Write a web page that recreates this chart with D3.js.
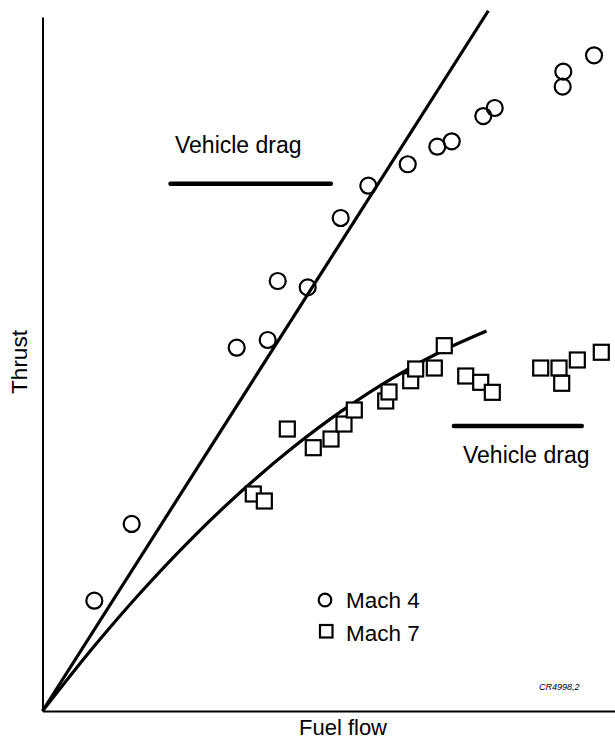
<!DOCTYPE html>
<html>
<head>
<meta charset="utf-8">
<script src="https://cdn.jsdelivr.net/npm/d3@7"></script>
<style>
  html, body { margin: 0; padding: 0; background: #fff; }
  svg { display: block; font-family: "Liberation Sans", Arial, sans-serif; }
</style>
</head>
<body>
<svg id="chart" width="615" height="741"></svg>
<script>
// ---- Data (arbitrary units; no ticks on the original) ----
const mach4Fuel   = [9.06, 15.59, 33.95, 39.37, 41.12, 46.36, 52.13, 56.96, 63.85, 69.02, 71.54, 77.06, 79.06, 90.94, 91.05, 96.42];
const mach4Thrust = [15.89, 26.95, 52.35, 53.46, 61.96, 61.05, 71.04, 75.69, 78.78, 81.31, 82.09, 85.73, 86.89, 89.96, 92.12, 94.48];

const mach7Fuel   = [36.85, 38.78, 42.80, 47.34, 50.44, 52.71, 54.51, 60.00, 60.58, 64.37, 65.24, 68.50, 70.24, 73.99, 76.61, 78.64, 87.10, 90.30, 90.77, 93.50, 97.69];
const mach7Thrust = [31.27, 30.26, 40.63, 37.94, 39.19, 41.35, 43.37, 44.67, 45.97, 47.59, 49.28, 49.42, 52.64, 48.27, 47.36, 45.92, 49.42, 49.42, 47.22, 50.58, 51.69];

// Fitted trend for Mach 4 (straight line from origin)
const mach4FitFuel   = [0, 77.94];
const mach4FitThrust = [0, 100.9];

// Fitted trend for Mach 7 (curve from origin)
const mach7FitFuel   = [0, 8.74, 17.48, 26.22, 34.97, 43.71, 52.45, 61.19, 69.93, 77.62];
const mach7FitThrust = [0, 9.05, 17.37, 24.96, 31.81, 37.93, 43.32, 47.98, 51.91, 54.76];

// Vehicle drag levels
const dragLabels = ["Vehicle drag", "Vehicle drag"];
const dragThrust = [75.98, 41.07];
const dragFuelStart = [22.38, 71.92];
const dragFuelEnd   = [50.40, 94.28];

const seriesNames = ["Mach 4", "Mach 7"];
const axisTitles = { x: "Fuel flow", y: "Thrust" };
const figureCode = "CR4998,2";

// ---- Layout ----
const svg = d3.select("#chart");
const x = d3.scaleLinear().domain([0, 100]).range([42.5, 614.5]);
const y = d3.scaleLinear().domain([0, 100]).range([711, 17]);

// Axes (no ticks)
const xAxis = d3.axisBottom(x).tickValues([]).tickSizeOuter(0);
const yAxis = d3.axisLeft(y).tickValues([]).tickSizeOuter(0);
svg.append("g").attr("transform", `translate(0,${y(0)})`).call(xAxis)
  .select(".domain").attr("stroke", "#000").attr("stroke-width", 2);
svg.append("g").attr("transform", `translate(${x(0)},0)`).call(yAxis)
  .select(".domain").attr("stroke", "#000").attr("stroke-width", 2);

// Axis titles
svg.append("text").attr("x", 343).attr("y", 735).attr("text-anchor", "middle")
  .attr("font-size", 22).attr("fill", "#000").text(axisTitles.x);
svg.append("text").attr("transform", "translate(27,362) rotate(-90)")
  .attr("text-anchor", "middle").attr("font-size", 22.5).attr("fill", "#000").text(axisTitles.y);

// Fit lines
const line = d3.line().x(d => x(d[0])).y(d => y(d[1]));
svg.append("path")
  .datum(mach4FitFuel.map((f, i) => [f, mach4FitThrust[i]]))
  .attr("d", line).attr("fill", "none").attr("stroke", "#000").attr("stroke-width", 3.2);
svg.append("path")
  .datum(mach7FitFuel.map((f, i) => [f, mach7FitThrust[i]]))
  .attr("d", line.curve(d3.curveCatmullRom)).attr("fill", "none").attr("stroke", "#000").attr("stroke-width", 3.2);

// Drag lines
dragThrust.forEach((t, i) => {
  svg.append("line")
    .attr("x1", x(dragFuelStart[i])).attr("x2", x(dragFuelEnd[i]))
    .attr("y1", y(t)).attr("y2", y(t))
    .attr("stroke", "#000").attr("stroke-width", 4.5).attr("stroke-linecap", "round");
});
svg.append("text").attr("x", 175).attr("y", 153).attr("font-size", 23).attr("fill", "#000").text(dragLabels[0]);
svg.append("text").attr("x", 463).attr("y", 463).attr("font-size", 23).attr("fill", "#000").text(dragLabels[1]);

// Mach 7 squares
const sq = 15;
svg.append("g").selectAll("rect")
  .data(mach7Fuel.map((f, i) => [f, mach7Thrust[i]]))
  .join("rect")
  .attr("x", d => x(d[0]) - sq / 2).attr("y", d => y(d[1]) - sq / 2)
  .attr("width", sq).attr("height", sq)
  .attr("fill", "#fff").attr("stroke", "#000").attr("stroke-width", 2.2);

// Mach 4 circles
svg.append("g").selectAll("circle")
  .data(mach4Fuel.map((f, i) => [f, mach4Thrust[i]]))
  .join("circle")
  .attr("cx", d => x(d[0])).attr("cy", d => y(d[1])).attr("r", 8)
  .attr("fill", "none").attr("stroke", "#000").attr("stroke-width", 2.2);

// Legend
const lg = svg.append("g");
lg.append("circle").attr("cx", 325).attr("cy", 600).attr("r", 6.3)
  .attr("fill", "none").attr("stroke", "#000").attr("stroke-width", 2.2);
lg.append("text").attr("x", 346).attr("y", 608).attr("font-size", 22.5).attr("fill", "#000").text(seriesNames[0]);
lg.append("rect").attr("x", 320).attr("y", 625).attr("width", 12.5).attr("height", 12.5)
  .attr("fill", "none").attr("stroke", "#000").attr("stroke-width", 2.2);
lg.append("text").attr("x", 346).attr("y", 641).attr("font-size", 22.5).attr("fill", "#000").text(seriesNames[1]);

// Figure code
svg.append("text").attr("x", 539).attr("y", 690).attr("font-size", 9)
  .attr("font-style", "italic").attr("fill", "#000").text(figureCode);
</script>
</body>
</html>
